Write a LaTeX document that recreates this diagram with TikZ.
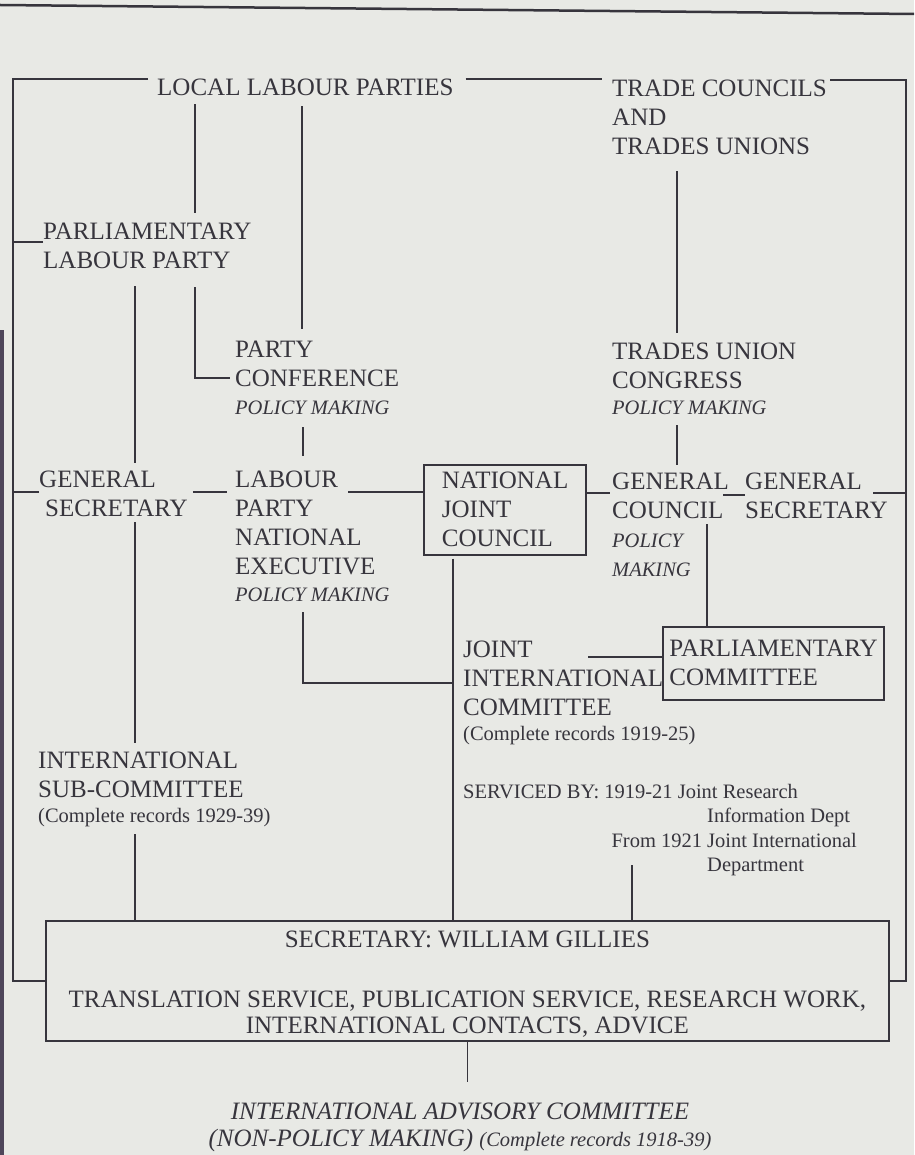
\documentclass[tikz,border=0pt]{standalone}
\usepackage{fontspec}
\setmainfont{Liberation Serif}
\usepackage{xcolor}

\definecolor{ink}{RGB}{55,53,61}
\definecolor{paper}{RGB}{232,233,229}
\definecolor{spine}{RGB}{78,70,90}

\newcommand{\mainsize}{\fontsize{25}{29}\selectfont}
\newcommand{\notesize}{\fontsize{20.5}{24.5}\selectfont}
\newcommand{\policy}[1]{{\notesize\itshape #1}}
\newcommand{\records}[1]{{\notesize #1}}

\tikzset{
  orgtext/.style={inner sep=0pt, align=left, anchor=north west, font=\mainsize, text=ink},
  orgbox/.style={orgtext, draw=ink, line width=1.8pt},
  orgline/.style={draw=ink, line width=1.8pt},
}

\begin{document}
\begin{tikzpicture}[x=1pt, y=-1pt]
\fill[paper] (0,0) rectangle (914,1155);
\useasboundingbox (0,0) rectangle (914,1155);
\draw[ink, line width=2.5pt] (0,5) -- (914,14);
\fill[spine] (0,330) rectangle (3.5,1155);

% labour party side
\node[orgtext] (llp) at (157,79) {LOCAL LABOUR PARTIES};
\node[orgtext] (plp) at (43,223) {PARLIAMENTARY\\LABOUR PARTY};
\node[orgtext] (conf) at (235,341) {PARTY\\CONFERENCE\\[-1pt]\policy{POLICY MAKING}};
\node[orgtext] (gsl) at (39,471) {GENERAL\\\hspace*{6pt}SECRETARY};
\node[orgtext] (lpne) at (235,471) {LABOUR\\PARTY\\NATIONAL\\EXECUTIVE\\[-2pt]\policy{POLICY MAKING}};
\node[orgtext] (isc) at (38,752) {INTERNATIONAL\\SUB-COMMITTEE\\[-4pt]\records{(Complete records 1929-39)}};

% trades union side
\node[orgtext] (tctu) at (612,80) {TRADE COUNCILS\\AND\\TRADES UNIONS};
\node[orgtext] (tuc) at (612,343) {TRADES UNION\\CONGRESS\\[-3pt]\policy{POLICY MAKING}};
\node[orgtext] (gc) at (612,473) {GENERAL\\COUNCIL\\\policy{POLICY}\\\policy{MAKING}};
\node[orgtext] (gsr) at (745,473) {GENERAL\\SECRETARY};

% joint bodies
\node[orgbox, inner xsep=18pt, inner ysep=7.5pt] (njc) at (423,464) {NATIONAL\\JOINT\\COUNCIL};
\node[orgbox, inner xsep=6.5pt, inner ysep=13.5pt] (pcom) at (662,626) {PARLIAMENTARY\\COMMITTEE};
\node[orgtext] (jic) at (463,641) {JOINT\\INTERNATIONAL\\COMMITTEE\\[-4pt]\records{(Complete records 1919-25)}};
\node[orgtext, font=\notesize] (serv) at (463,784) {SERVICED BY: 1919-21 Joint Research\\
  \hspace*{244pt}Information Dept\\
  \makebox[244pt][r]{From 1921 }Joint International\\
  \hspace*{244pt}Department};

% international department
\node[orgbox, align=center, minimum width=843pt, minimum height=120pt] (dept) at (45,920)
  {\rule{0pt}{23pt}SECRETARY: WILLIAM GILLIES\\[31pt]
   TRANSLATION SERVICE, PUBLICATION SERVICE, RESEARCH WORK,\\[-3pt]
   INTERNATIONAL CONTACTS, ADVICE};
\node[orgtext, anchor=base, align=center, font=\mainsize\itshape] (iac) at (460,1146)
  {INTERNATIONAL ADVISORY COMMITTEE\\[-2pt](NON-POLICY MAKING) {\notesize(Complete records 1918-39)}};

\coordinate (frameL) at ([xshift=-32pt]dept.west);
\coordinate (frameR) at ([xshift=16pt]dept.east);
\coordinate (meet) at (453,683);

% outer frame
\draw[orgline] ([xshift=-9pt]llp.north west) -| (frameL) -- (dept.west);
\draw[orgline] ([xshift=12pt]llp.north east) -- ([xshift=-10pt]llp.north east -| tctu.west);
\draw[orgline] ([xshift=3pt]tctu.north east) -| (frameR) -- (dept.east);

% labour links
\draw[orgline, shorten <=8pt, shorten >=10pt] ([xshift=38pt]llp.south west) -- ([xshift=38pt]llp.south west |- plp.north);
\draw[orgline, shorten <=10pt, shorten >=12pt] ([xshift=145pt]llp.south west) -- ([xshift=145pt]llp.south west |- conf.north);
\draw[orgline] ([yshift=-19pt]plp.north west) -- ([yshift=-19pt]plp.north west -| frameL);
\draw[orgline, shorten <=18pt] ([xshift=152pt]plp.south west) |- ([xshift=-5pt]conf.west);
\draw[orgline, shorten <=17pt, shorten >=8pt] ([xshift=92pt]plp.south west) -- ([xshift=92pt]plp.south west |- gsl.north);
\draw[orgline, shorten <=12pt, shorten >=15pt] ([xshift=68pt]conf.south west) -- ([xshift=68pt]conf.south west |- lpne.north);
\draw[orgline] ([yshift=-21pt]gsl.north west) -- ([yshift=-21pt]gsl.north west -| frameL);
\draw[orgline] ([xshift=5pt,yshift=-21pt]gsl.north east) -- ([xshift=-8pt,yshift=-21pt]lpne.north west);
\draw[orgline] ([xshift=113pt,yshift=-21pt]lpne.north west) -- ([yshift=-21pt]lpne.north west -| njc.west);
\draw[orgline, shorten <=10pt] ([xshift=68pt]lpne.south west) |- (meet);
\draw[orgline, shorten <=5pt, shorten >=9pt] ([xshift=96pt]gsl.south west) -- ([xshift=96pt]gsl.south west |- isc.north);
\draw[orgline, shorten <=7pt] ([xshift=97pt]isc.south west) -- ([xshift=97pt]isc.south west |- dept.north);

% trades union links
\draw[orgline, shorten <=16pt, shorten >=10pt] ([xshift=65pt]tctu.south west) -- ([xshift=65pt]tctu.south west |- tuc.north);
\draw[orgline, shorten <=10pt, shorten >=8pt] ([xshift=65pt]tuc.south west) -- ([xshift=65pt]tuc.south west |- gc.north);
\draw[orgline] ([yshift=-20pt]gc.north west -| njc.east) -- ([xshift=-2pt,yshift=-20pt]gc.north west);
\draw[orgline] ([xshift=111pt,yshift=-22pt]gc.north west) -- ([yshift=-22pt]gsr.north west);
\draw[orgline] ([xshift=128pt,yshift=-20pt]gsr.north west) -- ([yshift=-20pt]gsr.north west -| frameR);
\draw[orgline] ([xshift=95pt,yshift=-51pt]gc.north west) -- ([xshift=95pt]gc.north west |- pcom.north);

% joint links
\draw[orgline] ([xshift=125pt,yshift=-16pt]jic.north west) -- ([yshift=-16pt]jic.north west -| pcom.west);
\draw[orgline, shorten <=3pt] ([xshift=30pt]njc.south west) -- ([xshift=30pt]njc.south west |- dept.north);
\draw[orgline] ([xshift=169pt,yshift=11pt]serv.south west) -- ([xshift=169pt]serv.south west |- dept.north);
\draw[orgline, shorten >=20pt] (dept.south) -- (dept.south |- iac.north);
\end{tikzpicture}
\end{document}
